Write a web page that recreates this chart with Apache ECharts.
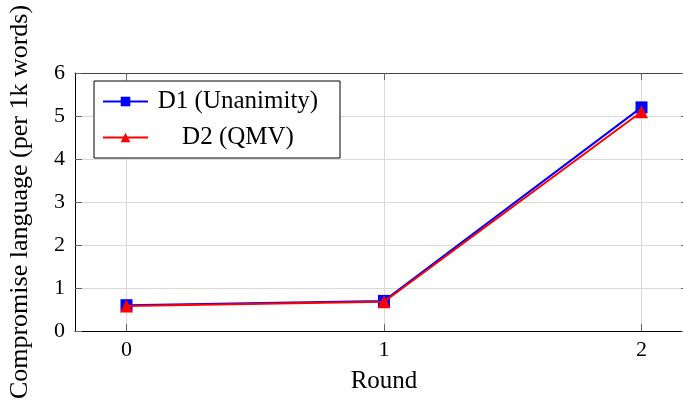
<!DOCTYPE html>
<html>
<head>
<meta charset="utf-8">
<script src="https://cdn.jsdelivr.net/npm/echarts@6/dist/echarts.min.js"></script>
<style>
html,body{margin:0;padding:0;background:#fff;overflow:hidden;}
#c{width:693px;height:407px;}
</style>
</head>
<body>
<div id="c"></div>
<script>
var rounds = [0, 1, 2];
var d1Values = [0.6, 0.7, 5.2];
var d2Values = [0.58, 0.68, 5.1];
var yTicks = [0, 1, 2, 3, 4, 5, 6];
var seriesNames = ['D1 (Unanimity)', 'D2 (QMV)'];

var FONT = 'Liberation Serif';
var chart = echarts.init(document.getElementById('c'));

function pairs(xs, ys) { return xs.map(function (x, i) { return [x, ys[i]]; }); }

var tickStyle = { show: true, inside: true, length: 7, lineStyle: { color: '#666', width: 1 } };

chart.setOption({
  animation: false,
  grid: { left: 75, top: 73, right: 0, bottom: 76, containLabel: false, outerBoundsMode: 'none' },
  xAxis: [{
    type: 'value', min: -0.2, max: 2.2, position: 'bottom',
    name: 'Round', nameLocation: 'middle', nameGap: 38,
    nameTextStyle: { fontFamily: FONT, fontSize: 25, color: '#000' },
    axisLine: { show: true, onZero: false, lineStyle: { color: '#000', width: 1 } },
    axisTick: Object.assign({ customValues: rounds }, tickStyle),
    axisLabel: { customValues: rounds, margin: 8, fontFamily: FONT, fontSize: 22, color: '#000' },
    splitLine: { show: false }
  }, {
    type: 'value', min: -0.2, max: 2.2, position: 'top',
    axisLine: { show: true, onZero: false, lineStyle: { color: '#444', width: 1 } },
    axisTick: Object.assign({ customValues: rounds }, tickStyle),
    axisLabel: { show: false },
    splitLine: { show: false }
  }],
  yAxis: [{
    type: 'value', min: 0, max: 6, interval: 1, position: 'left',
    name: 'Compromise language (per 1k words)', nameLocation: 'middle', nameGap: 42, nameRotate: 90,
    nameTextStyle: { fontFamily: FONT, fontSize: 26, color: '#000' },
    axisLine: { show: true, onZero: false, lineStyle: { color: '#000', width: 1 } },
    axisTick: tickStyle,
    axisLabel: { margin: 10, fontFamily: FONT, fontSize: 22, color: '#000' },
    splitLine: { show: true, lineStyle: { color: '#d9d9d9', width: 1 } }
  }, {
    type: 'value', min: 0, max: 6, interval: 1, position: 'right',
    axisLine: { show: true, onZero: false, lineStyle: { color: '#000', width: 1 } },
    axisTick: { show: true, inside: true, length: 12, lineStyle: { color: '#666' } },
    axisLabel: { show: false },
    splitLine: { show: false }
  }],
  legend: {
    orient: 'vertical', left: 94, top: 81,
    padding: [8, 17, 8, 8],
    backgroundColor: '#fff', borderColor: '#000', borderWidth: 1,
    itemWidth: 45, itemHeight: 12, itemGap: 11,
    data: seriesNames,
    formatter: function (n) { return '{t|' + n + '}'; },
    textStyle: {
      fontFamily: FONT, fontSize: 25, color: '#000',
      rich: { t: { width: 170, align: 'center', fontFamily: FONT, fontSize: 25, lineHeight: 22 } }
    }
  },
  series: [{
    name: seriesNames[0], type: 'line', data: pairs(rounds, d1Values),
    symbol: 'rect', symbolSize: 12,
    itemStyle: { color: '#0000ff' }, lineStyle: { color: '#0000ff', width: 2 },
    markLine: {
      silent: true, symbol: 'none', label: { show: false },
      lineStyle: { color: '#d9d9d9', type: 'solid', width: 1 },
      data: rounds.map(function (r) { return { xAxis: r }; }),
      z: 0
    },
    z: 3
  }, {
    name: seriesNames[1], type: 'line', data: pairs(rounds, d2Values),
    symbol: 'triangle', symbolSize: 13,
    itemStyle: { color: '#ff0000' }, lineStyle: { color: '#ff0000', width: 2 },
    z: 4
  }]
});
</script>
</body>
</html>
